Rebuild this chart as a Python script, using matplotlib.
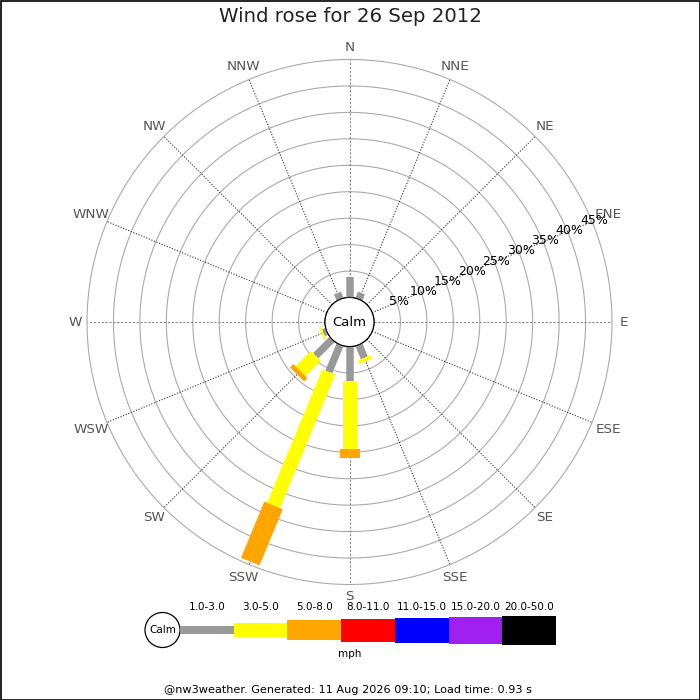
import numpy as np
import matplotlib
matplotlib.use("Agg")
import matplotlib.pyplot as plt
from matplotlib.patches import Circle, Rectangle

# directions, clockwise from north
directions = ["N", "NNE", "NE", "ENE", "E", "ESE", "SE", "SSE",
              "S", "SSW", "SW", "WSW", "W", "WNW", "NW", "NNW"]

# percentage of time per direction for each speed band (mph)
band_labels = ["1.0-3.0", "3.0-5.0", "5.0-8.0", "8.0-11.0",
               "11.0-15.0", "15.0-20.0", "20.0-50.0"]
band_colors = ["#999999", "#ffff00", "#ffa500", "#ff0000",
               "#0000ff", "#a020f0", "#000000"]
pct_1_3 = [3.8, 1.3, 0, 0, 0, 0, 0, 2.7, 6.6, 5.6, 4.4, 0.7, 0, 0, 0, 1.3]
pct_3_5 = [0, 0, 0, 0, 0, 0, 0, 0.7, 12.8, 27.3, 4.1, 0.4, 0, 0, 0, 0]
pct_5_8 = [0, 0, 0, 0, 0, 0, 0, 0, 1.7, 11.5, 0.9, 0, 0, 0, 0, 0]
bands = [pct_1_3, pct_3_5, pct_5_8]

ring_pcts = [5, 10, 15, 20, 25, 30, 35, 40, 45]

title = "Wind rose for 26 Sep 2012"
footer = "@nw3weather. Generated: 11 Aug 2026 09:10; Load time: 0.93 s"

# layout (pixels on a 700x700 canvas)
W = 700
cx, cy = 349.5, 322
R = 262.5          # radius of the 45% ring
r_calm = 24.5      # radius of the calm circle (0%)
rmax = 45
r_origin = rmax * r_calm / (R - r_calm)
bar_px = [7.5, 14, 20, 23, 25, 27, 29]
px2pt = 72 / 100

fig = plt.figure(figsize=(7, 7), dpi=100)

# overlay axes in pixel units for title, legend, footer and frame
lax = fig.add_axes([0, 0, 1, 1])
lax.set_xlim(0, W)
lax.set_ylim(W, 0)
lax.axis("off")

ax = fig.add_axes([(cx - R) / W, (W - cy - R) / W, 2 * R / W, 2 * R / W],
                  projection="polar")
ax.set_theta_zero_location("N")
ax.set_theta_direction(-1)
ax.set_rorigin(-r_origin)
ax.set_ylim(0, rmax)
ax.grid(False)
ax.set_xticks([])
ax.set_yticks([])
ax.spines["polar"].set_visible(False)
ax.patch.set_alpha(0)

theta = np.deg2rad(np.arange(16) * 22.5)
circ = np.linspace(0, 2 * np.pi, 361)

# rings
for p in ring_pcts:
    ax.plot(circ, np.full_like(circ, p), color="#aaaaaa", lw=0.8, zorder=1,
            clip_on=False)

# spokes
for i, th in enumerate(theta):
    if i % 4 == 0:
        ax.plot([th, th], [0, rmax], color="#888888", lw=0.8,
                ls=(0, (2, 1.5)), zorder=1)
    else:
        ax.plot([th, th], [0, rmax], color="#333333", lw=0.8,
                ls=(0, (1, 1.5)), zorder=1)

# calm circle
ax.plot(circ, np.zeros_like(circ), color="black", lw=0.9, zorder=4)
ax.text(0.5, 0.5, "Calm", transform=ax.transAxes, ha="center", va="center",
        fontsize=9.5, color="black", zorder=5)

# compass labels
for th, name in zip(theta, directions):
    rr = 47.2 + 0.6 * (len(name) - 1) * abs(np.sin(th))
    ax.text(th, rr, name, ha="center", va="center", fontsize=9.7,
            color="#555555", clip_on=False)

# percent labels along ENE
for p in ring_pcts:
    ax.text(np.deg2rad(67.5), p + 0.45, f"{p}%", ha="center", va="center",
            fontsize=9, color="black", zorder=6)

# stacked bars
for i, th in enumerate(theta):
    bottom = 0
    for b, vals in enumerate(bands):
        v = vals[i]
        if v > 0:
            ax.plot([th, th], [bottom, bottom + v], color=band_colors[b],
                    lw=bar_px[b] * px2pt, solid_capstyle="butt", zorder=3)
        bottom += v

# title
lax.text(W / 2, 17, title, ha="center", va="center", fontsize=14.2,
         color="#222222")

# legend
seg_w = 53.7
leg_x0 = 180
leg_y = 630
lax.add_patch(Circle((162.5, leg_y), 17.5, facecolor="white",
                     edgecolor="black", lw=0.9))
lax.text(162.5, leg_y, "Calm", ha="center", va="center", fontsize=7.5)
centers = leg_x0 + seg_w * (np.arange(len(band_labels)) + 0.5)
hts = np.array(bar_px)
lax.bar(centers, hts, bottom=leg_y - hts / 2, width=seg_w,
        color=band_colors, linewidth=0)
for xc, lab in zip(centers, band_labels):
    lax.text(xc, 607, lab, ha="center", va="center", fontsize=7.5)
lax.text(350, 654, "mph", ha="center", va="center", fontsize=7.5)

# footer
lax.text(348, 690, footer, ha="center", va="center", fontsize=8.1)

# frame
lax.add_patch(Rectangle((0.5, 0.5), W - 1, W - 1, fill=False,
                        edgecolor="black", lw=1.2))

fig.savefig("out.png", dpi=100)
